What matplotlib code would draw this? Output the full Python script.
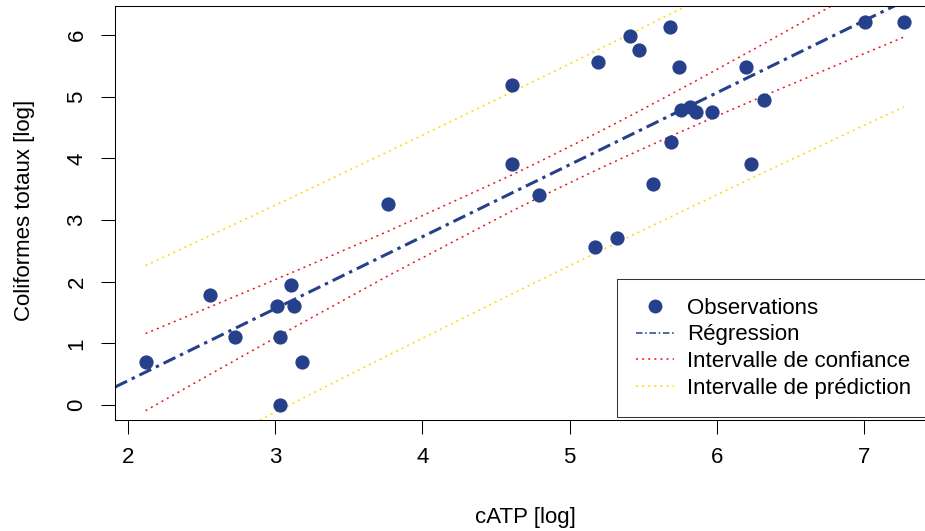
import numpy as np
import matplotlib.pyplot as plt
from matplotlib.lines import Line2D

# observations (log scale)
catp = [2.12, 2.56, 2.73, 3.01, 3.03, 3.03, 3.11, 3.13, 3.18, 3.77,
        4.61, 4.61, 4.79, 5.19, 5.17, 5.32, 5.41, 5.47, 5.57, 5.68,
        5.69, 5.74, 5.76, 5.82, 5.86, 5.97, 6.20, 6.23, 6.32, 7.01, 7.27]
coliformes = [0.69, 1.79, 1.10, 1.61, 1.10, 0.00, 1.95, 1.61, 0.69, 3.26,
              3.91, 5.19, 3.40, 5.56, 2.56, 2.71, 5.99, 5.75, 3.58, 6.13,
              4.26, 5.48, 4.79, 4.83, 4.75, 4.75, 5.48, 3.91, 4.94, 6.21, 6.21]

x_ticks = [2, 3, 4, 5, 6, 7]
y_ticks = [0, 1, 2, 3, 4, 5, 6]

point_col = '#27408B'
red = '#E8141B'
gold = '#FFD700'

plt.rcParams['font.family'] = ['Liberation Sans', 'DejaVu Sans']

x = np.array(catp)
y = np.array(coliformes)
n = len(x)

# linear fit + 90% confidence / prediction bands
slope, intercept = np.polyfit(x, y, 1)
resid = y - (intercept + slope * x)
s = np.sqrt(np.sum(resid ** 2) / (n - 2))
t_crit = 1.699  # t(0.95, df=29)
xs = np.sort(x)
fit = intercept + slope * xs
sxx = np.sum((x - x.mean()) ** 2)
se_fit = s * np.sqrt(1 / n + (xs - x.mean()) ** 2 / sxx)
se_pred = s * np.sqrt(1 + 1 / n + (xs - x.mean()) ** 2 / sxx)

fig = plt.figure(figsize=(9.25, 5.31), dpi=100)
ax = fig.add_axes([0.1246, 0.2083, 0.8868, 0.7813])

ax.scatter(x, y, s=105, color=point_col, zorder=3, linewidths=0)
ax.axline((0, intercept), slope=slope, color=point_col, lw=2.2,
          dashes=(4.3, 1.7, 1.1, 1.7))
ax.plot(xs, fit + t_crit * se_fit, color=red, lw=1.1, dashes=(1.3, 2.7))
ax.plot(xs, fit - t_crit * se_fit, color=red, lw=1.1, dashes=(1.3, 2.7))
ax.plot(xs, fit + t_crit * se_pred, color=gold, lw=1.1, dashes=(1.3, 2.7))
ax.plot(xs, fit - t_crit * se_pred, color=gold, lw=1.1, dashes=(1.3, 2.7))

ax.set_xlim(1.914, 7.486)
ax.set_ylim(-0.249, 6.478)
ax.set_xticks(x_ticks)
ax.set_yticks(y_ticks)
ax.tick_params(direction='out', length=10, width=0.75, labelsize=16)
ax.tick_params(axis='x', pad=9)
ax.tick_params(axis='y', pad=10)
for lab in ax.get_yticklabels():
    lab.set_rotation(90)
    lab.set_va('center')
for sp in ax.spines.values():
    sp.set_linewidth(0.75)

fig.text(525 / 925, 1 - 517 / 531, 'cATP [log]', ha='center', va='center', fontsize=16)
fig.text(25 / 925, 1 - 210 / 531, 'Coliformes totaux [log]', ha='center', va='center',
         rotation=90, fontsize=16)

handles = [
    Line2D([], [], ls='none', marker='o', ms=10, color=point_col, mec='none'),
    Line2D([], [], color=point_col, lw=1.1, dashes=(4.3, 1.7, 1.1, 1.7)),
    Line2D([], [], color=red, lw=1.1, dashes=(1.3, 2.7)),
    Line2D([], [], color=gold, lw=1.1, dashes=(1.3, 2.7)),
]
labels = ['Observations', 'Régression', 'Intervalle de confiance', 'Intervalle de prédiction']
leg = fig.legend(handles, labels, loc='upper left', bbox_to_anchor=(617 / 925, 1 - 279 / 531),
                 bbox_transform=fig.transFigure, fontsize=16, frameon=True, fancybox=False,
                 borderpad=0.85, handlelength=1.7, handletextpad=0.6, labelspacing=0.25,
                 borderaxespad=0)
leg.get_frame().set_edgecolor('black')
leg.get_frame().set_linewidth(0.75)

fig.savefig('out.png', dpi=100)
